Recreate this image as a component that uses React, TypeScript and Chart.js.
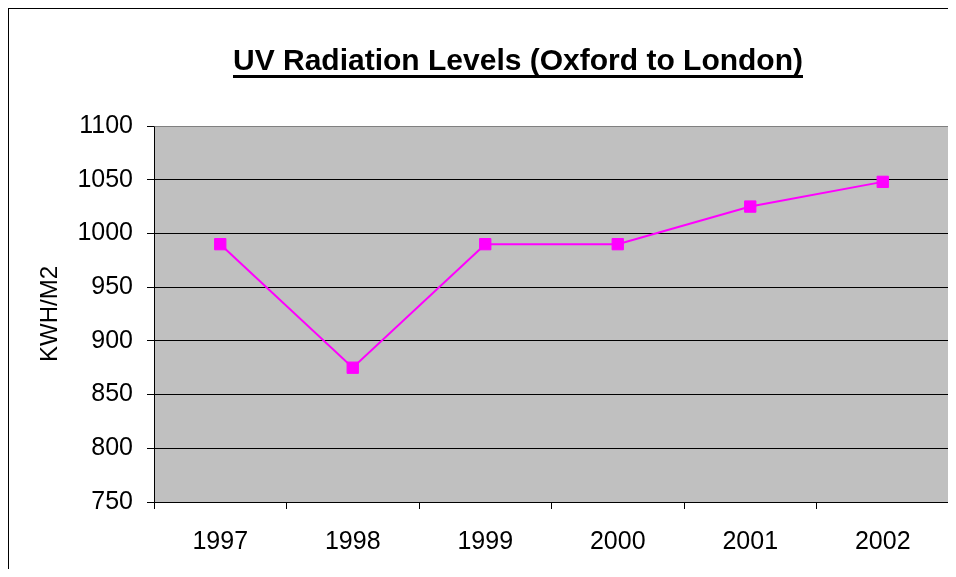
import React, { useEffect, useRef } from "react";
import { Chart, registerables } from "chart.js";

Chart.register(...registerables);

const categories = ["1997", "1998", "1999", "2000", "2001", "2002"];
const uvValues = [990, 875, 990, 990, 1025, 1048];
const yMin = 750;
const yMax = 1100;
const yStep = 50;
const chartTitle = "UV Radiation Levels (Oxford to London)";
const yAxisTitle = "KWH/M2";

const FONT = "'Liberation Sans', Arial, Helvetica, sans-serif";

const plotBgPlugin = {
  id: "plotBg",
  beforeDraw(chart: any) {
    const { ctx, chartArea } = chart;
    ctx.save();
    ctx.fillStyle = "#C0C0C0";
    ctx.fillRect(chartArea.left, chartArea.top, chartArea.right - chartArea.left, chartArea.bottom - chartArea.top);
    ctx.restore();
  },
  beforeDatasetsDraw(chart: any) {
    const { ctx, chartArea } = chart;
    ctx.save();
    ctx.strokeStyle = "#808080";
    ctx.lineWidth = 1;
    ctx.beginPath();
    ctx.moveTo(Math.round(chartArea.left) + 0.5, Math.round(chartArea.top) + 0.5);
    ctx.lineTo(Math.round(chartArea.right) - 0.5, Math.round(chartArea.top) + 0.5);
    ctx.lineTo(Math.round(chartArea.right) - 0.5, Math.round(chartArea.bottom) + 0.5);
    ctx.stroke();
    ctx.restore();
  },
};

const underlinedTitlePlugin = {
  id: "underlinedTitle",
  afterDraw(chart: any) {
    const { ctx } = chart;
    ctx.save();
    ctx.font = `bold 30px ${FONT}`;
    ctx.fillStyle = "#000";
    ctx.textAlign = "center";
    ctx.textBaseline = "alphabetic";
    const cx = 509;
    const baseY = 61;
    ctx.fillText(chartTitle, cx, baseY);
    const w = ctx.measureText(chartTitle).width;
    ctx.fillRect(cx - w / 2, baseY + 5, w, 3);
    ctx.restore();
  },
};

export default function App() {
  const canvasRef = useRef<HTMLCanvasElement | null>(null);

  useEffect(() => {
    if (!canvasRef.current) return;
    const chart = new Chart(canvasRef.current, {
      type: "line",
      data: {
        labels: categories,
        datasets: [
          {
            data: uvValues,
            borderColor: "#FF00FF",
            backgroundColor: "#FF00FF",
            borderWidth: 2,
            pointStyle: "rect",
            pointRadius: 8,
            pointBackgroundColor: "#FF00FF",
            pointBorderColor: "#FF00FF",
            pointBorderWidth: 1,
            tension: 0,
            fill: false,
            clip: false,
          },
        ],
      },
      options: {
        responsive: false,
        animation: false,
        events: [],
        layout: { autoPadding: false, padding: { left: 23, right: 7, top: 117, bottom: 0 } },
        plugins: {
          legend: { display: false },
          tooltip: { enabled: false },
          title: { display: false },
        },
        scales: {
          x: {
            type: "category",
            offset: true,
            grid: {
              offset: true,
              drawOnChartArea: false,
              drawTicks: true,
              tickLength: 7,
              color: "#000",
              lineWidth: 1,
            },
            border: { display: true, color: "#000", width: 1 },
            ticks: {
              color: "#000",
              font: { family: FONT, size: 25 },
              padding: 18,
              maxRotation: 0,
              autoSkip: false,
            },
            afterFit: (s: any) => {
              s.height = 67;
            },
          },
          y: {
            min: yMin,
            max: yMax,
            grid: {
              color: (c: any) => (c.tick && c.tick.value === yMax ? "#808080" : "#000"),
              tickColor: "#000",
              tickLength: 7,
              lineWidth: 1,
            },
            border: { display: true, color: "#000", width: 1 },
            ticks: {
              stepSize: yStep,
              color: "#000",
              font: { family: FONT, size: 25 },
              padding: 14,
              callback: (v: any) => String(v),
            },
            title: {
              display: true,
              text: yAxisTitle,
              color: "#000",
              font: { family: FONT, size: 24 },
              padding: 4,
            },
            afterFit: (s: any) => {
              s.width = 122;
            },
          },
        },
      },
      plugins: [plotBgPlugin, underlinedTitlePlugin],
    });
    return () => chart.destroy();
  }, []);

  return (
    <div
      style={{
        borderTop: "1px solid #000",
        borderLeft: "1px solid #000",
        width: 947,
        height: 560,
        background: "#fff",
      }}
    >
      <canvas ref={canvasRef} width={947} height={560} style={{ display: "block" }} />
    </div>
  );
}
